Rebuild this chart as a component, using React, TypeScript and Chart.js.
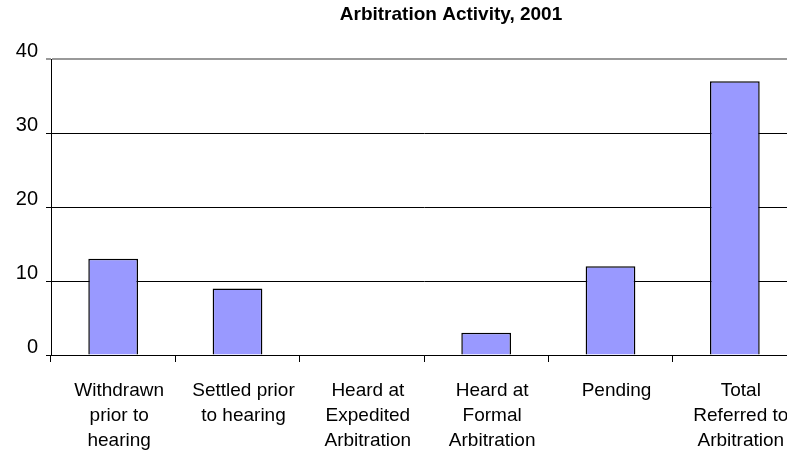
import React, { useEffect, useRef } from "react";
import { Chart, registerables } from "chart.js";

Chart.register(...registerables);

const TITLE = "Arbitration Activity, 2001";
const categories: string[][] = [
  ["Withdrawn", "prior to", "hearing"],
  ["Settled prior", "to hearing"],
  ["Heard at", "Expedited", "Arbitration"],
  ["Heard at", "Formal", "Arbitration"],
  ["Pending"],
  ["Total", "Referred to", "Arbitration"],
];
const values: number[] = [13, 9, 0, 3, 12, 37];
const yTicks: number[] = [0, 10, 20, 30, 40];

const FONT = '"Liberation Sans", Arial, sans-serif';

const titlePlugin = {
  id: "customTitle",
  afterDraw(chart: any) {
    const ctx = chart.ctx;
    ctx.save();
    ctx.font = `bold 19px ${FONT}`;
    ctx.fillStyle = "#000";
    ctx.textAlign = "center";
    ctx.textBaseline = "middle";
    ctx.fillText(TITLE, 451, 15);
    ctx.restore();
  },
};

export default function App() {
  const ref = useRef<HTMLCanvasElement | null>(null);
  useEffect(() => {
    if (!ref.current) return;
    const chart = new Chart(ref.current, {
      type: "bar",
      data: {
        labels: categories,
        datasets: [
          {
            data: values,
            backgroundColor: "#9999FF",
            borderColor: "#000000",
            borderWidth: 1.5,
            categoryPercentage: 1,
            barPercentage: 0.4,
          },
        ],
      },
      options: {
        animation: false,
        responsive: false,
        layout: { padding: { left: 0, right: 13, top: 59, bottom: 0 } },
        plugins: { legend: { display: false }, title: { display: false }, tooltip: { enabled: false } },
        scales: {
          x: {
            offset: true,
            grid: {
              offset: true,
              drawOnChartArea: false,
              drawTicks: true,
              tickLength: 7,
              color: "#000",
            },
            border: { color: "#000", width: 1 },
            ticks: {
              color: "#000",
              font: { family: FONT, size: 19, lineHeight: 1.29 },
              padding: 17,
              labelOffset: 6,
              maxRotation: 0,
              autoSkip: false,
            },
            afterFit: (s: any) => {
              s.height = 95;
            },
          },
          y: {
            min: 0,
            max: 40,
            afterBuildTicks: (s: any) => {
              s.ticks = yTicks.map((v) => ({ value: v }));
            },
            grid: {
              color: (c: any) => (c.tick && c.tick.value === 40 ? "#999" : "#000"),
              lineWidth: (c: any) => (c.tick && c.tick.value === 40 ? 2 : 1),
              tickLength: 5,
              drawTicks: true,
            },
            border: { color: "#000", width: 1 },
            ticks: {
              color: "#000",
              font: { family: FONT, size: 20 },
              padding: 8,
              labelOffset: -8,
            },
            afterFit: (s: any) => {
              s.width = 51;
            },
          },
        },
      },
      plugins: [titlePlugin],
    });
    return () => chart.destroy();
  }, []);
  return (
    <div
      style={{
        position: "fixed",
        left: 0,
        top: 0,
        width: 787,
        height: 450,
        overflow: "hidden",
        background: "#fff",
      }}
    >
      <canvas ref={ref} width={810} height={450} style={{ display: "block" }} />
    </div>
  );
}
